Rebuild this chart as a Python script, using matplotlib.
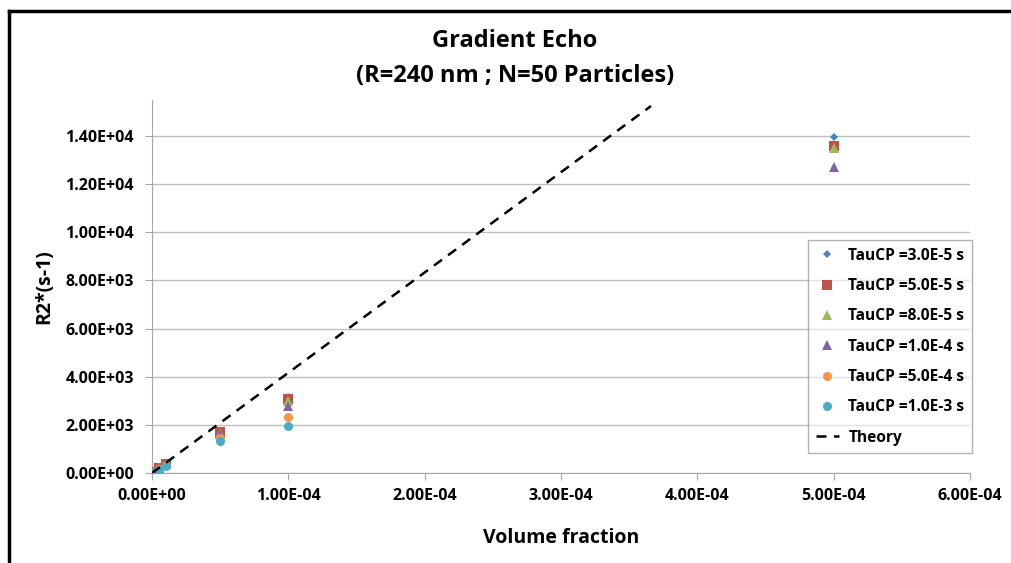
import matplotlib
matplotlib.use("Agg")
import matplotlib.pyplot as plt
from matplotlib.ticker import FuncFormatter, MultipleLocator
from matplotlib.lines import Line2D

plt.rcParams['font.family'] = ['Open Sans', 'DejaVu Sans']

# Data
volume_fraction = [1e-6, 5e-6, 1e-5, 5e-5, 1e-4, 5e-4]
series_labels = ["TauCP =3.0E-5 s", "TauCP =5.0E-5 s", "TauCP =8.0E-5 s",
                 "TauCP =1.0E-4 s", "TauCP =5.0E-4 s", "TauCP =1.0E-3 s"]
r2_tau_3e5 = [40, 200, 390, 1680, 3150, 13950]
r2_tau_5e5 = [40, 200, 390, 1720, 3060, 13580]
r2_tau_8e5 = [40, 195, 385, 1660, 3000, 13500]
r2_tau_1e4 = [38, 190, 375, 1620, 2800, 12720]
r2_tau_5e4 = [35, 165, 330, 1450, 2330, None]
r2_tau_1e3 = [30, 140, 280, 1340, 1960, None]
series_values = [r2_tau_3e5, r2_tau_5e5, r2_tau_8e5, r2_tau_1e4, r2_tau_5e4, r2_tau_1e3]
theory_x = [0.0, 3.66e-4]
theory_y = [0.0, 15250.0]

markers = ['D', 's', '^', '^', 'o', 'o']
sizes = [5, 6.5, 6.5, 6.5, 6.5, 6.5]
colors = ['#4F81BD', '#C0504D', '#9BBB59', '#8064A2', '#F79646', '#4BACC6']

fig = plt.figure(figsize=(10.12, 5.63), dpi=100)
ax = fig.add_axes([152/1012, 1-473/563, (970-152)/1012, (473-100)/563])

handles = []
for vals, lab, m, s, c in zip(series_values, series_labels, markers, sizes, colors):
    xs = [x for x, v in zip(volume_fraction, vals) if v is not None]
    ys = [v for v in vals if v is not None]
    ms = s * 0.8 if m == 'D' else s
    h, = ax.plot(xs, ys, linestyle='none', marker=m, markersize=ms, color=c,
                 markeredgewidth=0, label=lab, zorder=3)
    handles.append(h)
th, = ax.plot(theory_x, theory_y, linestyle=(0, (4, 3)), color='black', lw=1.8,
              label='Theory', zorder=4)
handles.append(th)

ax.set_xlim(0, 6e-4)
ax.set_ylim(0, 15500)
ax.xaxis.set_major_locator(MultipleLocator(1e-4))
ax.set_yticks([0, 2000, 4000, 6000, 8000, 10000, 12000, 14000])

def sci(v, pos):
    return "%.2E" % v

ax.xaxis.set_major_formatter(FuncFormatter(sci))
ax.yaxis.set_major_formatter(FuncFormatter(sci))
for lab in ax.get_xticklabels() + ax.get_yticklabels():
    lab.set_fontweight('bold')
    lab.set_fontsize(11.5)

ax.grid(axis='y', color='#BEBEBE', lw=1)
ax.set_axisbelow(True)
for sp in ['top', 'right']:
    ax.spines[sp].set_visible(False)
for sp in ['left', 'bottom']:
    ax.spines[sp].set_color('#A6A6A6')
ax.tick_params(axis='x', direction='out', length=5, color='#A6A6A6', pad=6)
ax.tick_params(axis='y', direction='out', length=5, color='#A6A6A6', pad=8)

ax.set_xlabel('Volume fraction', fontsize=14, fontweight='bold', labelpad=17)
ax.set_ylabel('R2*(s-1)', fontsize=14, fontweight='bold', labelpad=8)

fig.text(515/1012, 1-41/563, 'Gradient Echo', ha='center', va='center',
         fontsize=17, fontweight='bold')
fig.text(515/1012, 1-76/563, '(R=240 nm ; N=50 Particles)', ha='center', va='center',
         fontsize=17, fontweight='bold')

leg = ax.legend(handles=handles, loc='upper left',
                bbox_to_anchor=((808-152)/818, (473-240)/373),
                prop={'weight': 'bold', 'size': 11.2},
                frameon=True, fancybox=False, edgecolor='#808080',
                framealpha=0.6,
                borderpad=0.5, labelspacing=0.92, handlelength=1.5,
                handletextpad=0.6, borderaxespad=0)
leg.get_frame().set_linewidth(1)

# outer frame (top and left edges visible)
fig.add_artist(Line2D([9/1012, 9/1012], [0, 1-11/563], color='black', lw=2.5,
                      transform=fig.transFigure))
fig.add_artist(Line2D([9/1012, 1], [1-11/563, 1-11/563], color='black', lw=2.5,
                      transform=fig.transFigure))

fig.savefig('out.png', dpi=100)
